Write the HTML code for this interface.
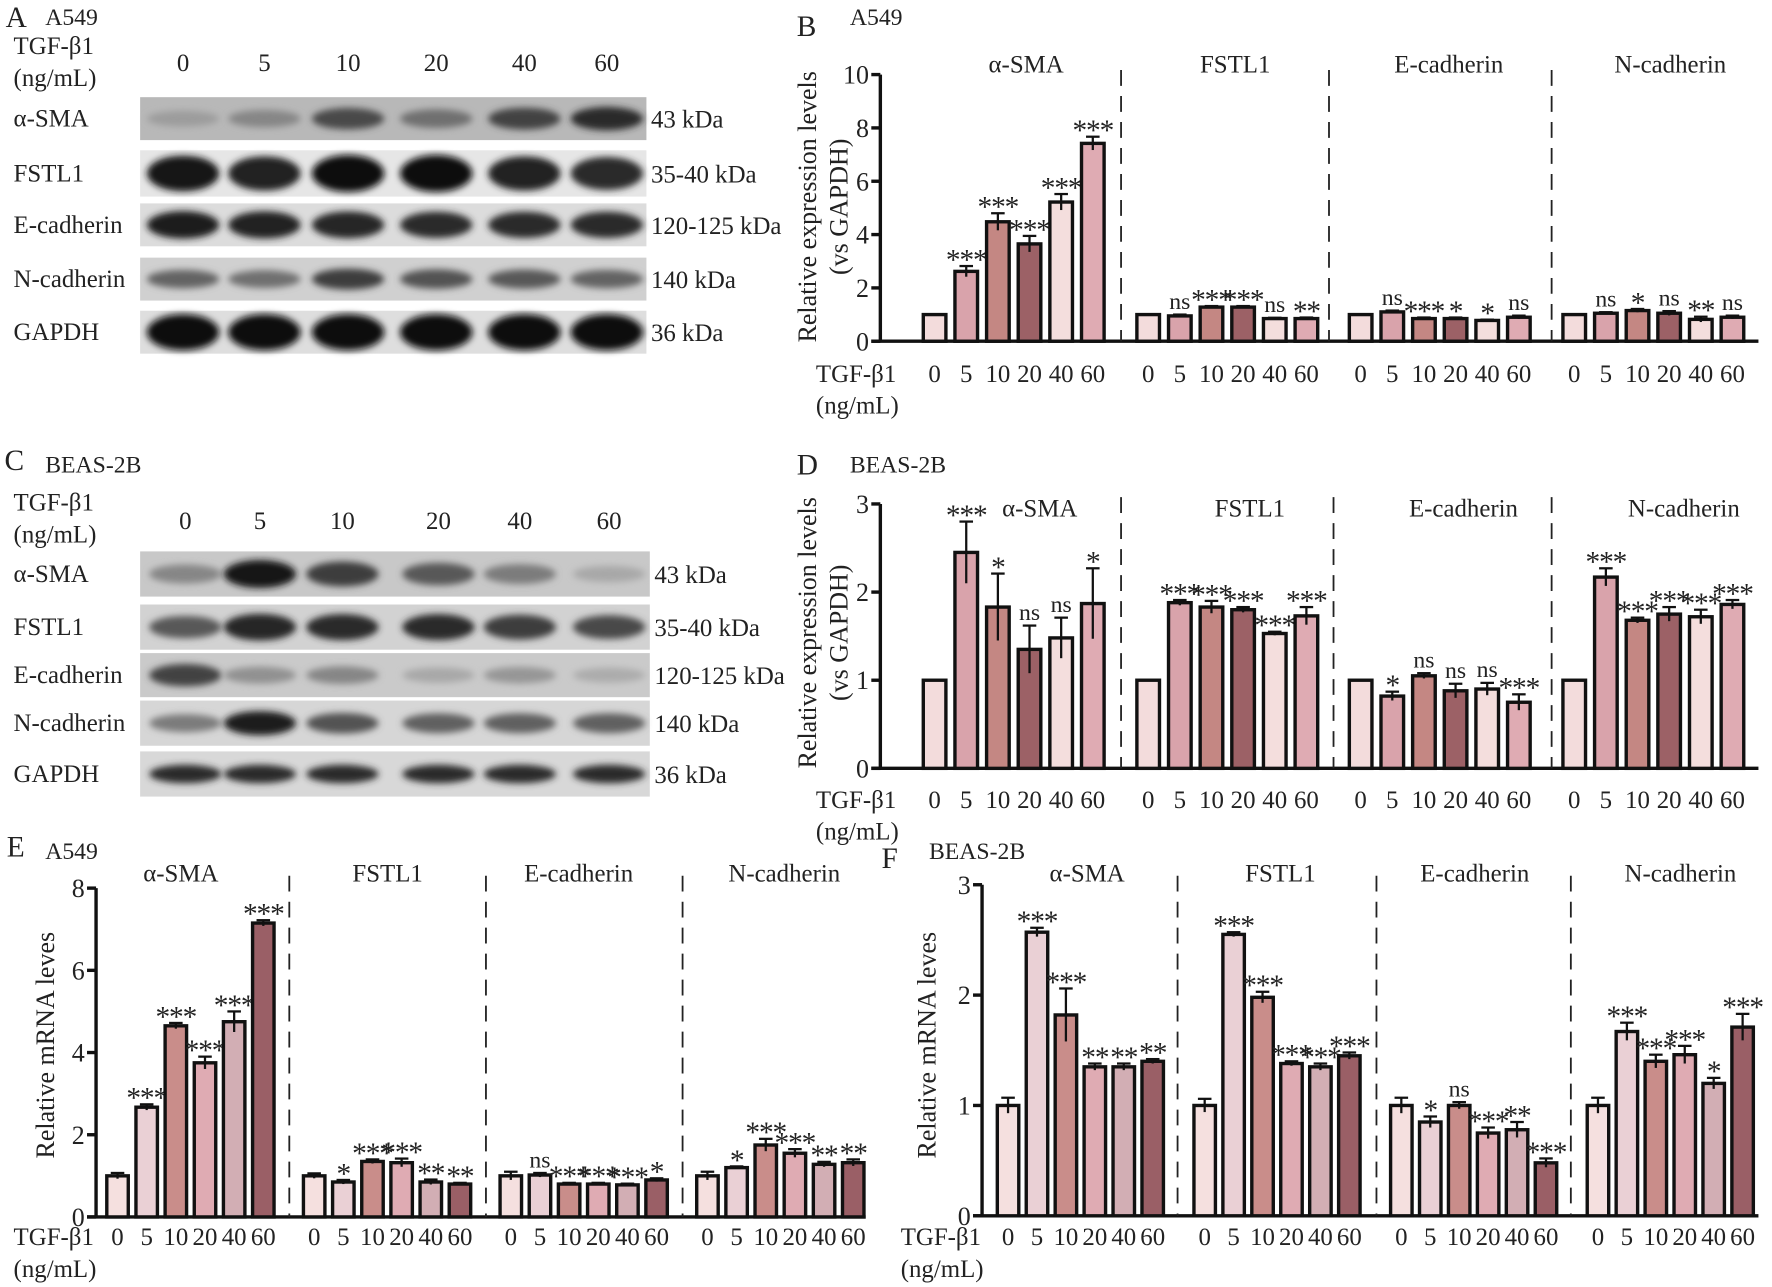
<!DOCTYPE html>
<html><head><meta charset="utf-8"><style>
html,body{margin:0;padding:0;background:#fff;}
svg{display:block;font-family:"Liberation Serif",serif;}
</style></head><body>
<svg id="fig" width="1772" height="1287" viewBox="0 0 1568 1139" preserveAspectRatio="none" xmlns="http://www.w3.org/2000/svg">
<defs><filter id="blur" x="-20%" y="-50%" width="140%" height="200%"><feGaussianBlur stdDeviation="3"/></filter></defs>
<g id="root"></g>
</svg>
<script>
// ===== Chart data =====
const doses = ["0","5","10","20","40","60"];
const groups = ["α-SMA","FSTL1","E-cadherin","N-cadherin"];
// Panel B (A549 protein)
const bSMA=[1,2.62,4.48,3.65,5.22,7.42], bSMAErr=[0,0.2,0.32,0.3,0.3,0.25], bSMASig=["","***","***","***","***","***"];
const bFSTL=[1,0.95,1.28,1.28,0.85,0.85], bFSTLErr=[0,0.05,0.04,0.04,0.03,0.04], bFSTLSig=["","ns","***","***","ns","**"];
const bEcad=[1,1.1,0.85,0.85,0.78,0.9], bEcadErr=[0,0.05,0.04,0.04,0.03,0.06], bEcadSig=["","ns","***","*","*","ns"];
const bNcad=[1,1.05,1.15,1.05,0.82,0.9], bNcadErr=[0,0.04,0.06,0.08,0.1,0.06], bNcadSig=["","ns","*","ns","**","ns"];
// Panel D (BEAS-2B protein)
const dSMA=[1,2.45,1.83,1.35,1.48,1.87], dSMAErr=[0,0.35,0.38,0.27,0.23,0.4], dSMASig=["","***","*","ns","ns","*"];
const dFSTL=[1,1.88,1.83,1.8,1.53,1.73], dFSTLErr=[0,0.03,0.07,0.03,0.02,0.1], dFSTLSig=["","***","***","***","***","***"];
const dEcad=[1,0.82,1.05,0.88,0.9,0.75], dEcadErr=[0,0.05,0.03,0.08,0.07,0.09], dEcadSig=["","*","ns","ns","ns","***"];
const dNcad=[1,2.17,1.68,1.75,1.72,1.86], dNcadErr=[0,0.1,0.03,0.08,0.08,0.05], dNcadSig=["","***","***","***","***","***"];
// Panel E (A549 mRNA)
const eSMA=[1,2.67,4.65,3.75,4.75,7.15], eSMAErr=[0.07,0.07,0.07,0.15,0.25,0.07], eSMASig=["","***","***","***","***","***"];
const eFSTL=[1,0.85,1.35,1.32,0.85,0.8], eFSTLErr=[0.06,0.05,0.05,0.1,0.06,0.03], eFSTLSig=["","*","***","***","**","**"];
const eEcad=[1,1.02,0.8,0.8,0.78,0.9], eEcadErr=[0.1,0.05,0.03,0.03,0.03,0.04], eEcadSig=["","ns","***","***","***","*"];
const eNcad=[1,1.2,1.75,1.55,1.28,1.32], eNcadErr=[0.1,0.03,0.15,0.1,0.06,0.08], eNcadSig=["","*","***","***","**","**"];
// Panel F (BEAS-2B mRNA)
const fSMA=[1,2.57,1.82,1.35,1.35,1.4], fSMAErr=[0.07,0.04,0.24,0.03,0.03,0.02], fSMASig=["","***","***","**","**","**"];
const fFSTL=[1,2.55,1.98,1.38,1.35,1.45], fFSTLErr=[0.06,0.02,0.05,0.02,0.03,0.03], fFSTLSig=["","***","***","***","***","***"];
const fEcad=[1,0.85,1,0.75,0.78,0.48], fEcadErr=[0.07,0.05,0.03,0.05,0.07,0.04], fEcadSig=["","*","ns","***","**","***"];
const fNcad=[1,1.67,1.4,1.46,1.2,1.71], fNcadErr=[0.07,0.08,0.06,0.08,0.05,0.12], fNcadSig=["","***","***","***","*","***"];
const bTicks=[0,2,4,6,8,10], dTicks=[0,1,2,3], eTicks=[0,2,4,6,8], fTicks=[0,1,2,3];

const NS="http://www.w3.org/2000/svg";
const root=document.getElementById('root');
function mk(tag,attrs,parent){const e=document.createElementNS(NS,tag);for(const k in attrs)e.setAttribute(k,attrs[k]);(parent||root).appendChild(e);return e;}
function txt(x,y,s,size,anchor,parent,name){const t=mk('text',{x:x,y:y,'font-size':size,'text-anchor':anchor||'start',fill:'#222'},parent);t.textContent=s;


return t;}

// ===== Bar chart builder =====
function chart(o){
  const g=mk('g',{});
  
  
  const y=v=>o.y0-(v/o.max)*(o.y0-o.y1);
  const x=(gi,i)=>o.gx[gi]+i*o.step;
  const ya=mk('line',{x1:o.ax,y1:o.y1,x2:o.ax,y2:o.y0,stroke:'#111','stroke-width':3},g);
  
  
  const xa=mk('line',{x1:o.ax-8,y1:o.y0,x2:o.xend,y2:o.y0,stroke:'#111','stroke-width':3},g);
  
  
  o.ticks.forEach(t=>{
    mk('line',{x1:o.ax-8,y1:y(t),x2:o.ax,y2:y(t),stroke:'#111','stroke-width':3},g);
    txt(o.ax-10,y(t)+8,String(t),23,'end',g,'y-tick-label');
  });
  o.dash.forEach(dx=>{const l=mk('line',{x1:dx,y1:o.dashTop,x2:dx,y2:o.y0,stroke:'#222','stroke-width':1.6,'stroke-dasharray':'14 9'},g);
    
    });
  groups.forEach((gn,gi)=>{
    txt(o.titleX[gi],o.titleY,gn,22,'middle',g,'group-title');
    const vals=o.vals[gi],errs=o.errs[gi],sig=o.sig[gi];
    vals.forEach((v,i)=>{
      const cx=x(gi,i);
      const r=mk('rect',{x:cx-o.bw/2,y:y(v),width:o.bw,height:o.y0-y(v),fill:o.colors[i],stroke:'#111','stroke-width':3},g);
      
      
      const e=errs[i];
      let top=y(v)-2;
      if(e>0){const yt=y(v+e),yb=y(Math.max(0,v-e));
        mk('line',{x1:cx,y1:yt,x2:cx,y2:yb,stroke:'#111','stroke-width':2},g);
        mk('line',{x1:cx-6,y1:yt,x2:cx+6,y2:yt,stroke:'#111','stroke-width':2},g);
        top=yt;}
      if(sig[i]){const st=sig[i]==='ns';
        if(st) txt(cx,top-5,sig[i],21,'middle',g,'significance-label');
        else { const t=txt(cx,top+3,sig[i],26,'middle',g,'significance-label'); t.setAttribute('letter-spacing','-1'); }}
      txt(cx,o.tickY,doses[i],22,'middle',g,'x-tick-label');
    });
  });
  txt(o.tgfX,o.tickY,'TGF-β1',22,'start',g,'x-axis-title');
  txt(o.tgfX,o.tickY+28,'(ng/mL)',22,'start',g,'x-axis-unit');
  o.ylab.forEach((s,k)=>{const t=txt(0,0,s,23,'middle',g,'y-axis-title');t.setAttribute('transform','translate('+(o.ylabX+k*28)+','+o.ylabY+') rotate(-90)');});
}
const protColors=['#f3dcdc','#d9a3ab','#c48783','#9c6166','#f4dedd','#dfabb3'];
const mrnaColors=['#f5e0df','#ead0d5','#c98d8a','#dfabb3','#d2aeb4','#9a5f66'];
const gxP=[827,1016,1204,1393];
chart({name:'chart-b-a549-protein',ax:779,y0:302,y1:66,max:10,ticks:bTicks,xend:1556,gx:gxP,step:28,bw:20,
  vals:[bSMA,bFSTL,bEcad,bNcad],errs:[bSMAErr,bFSTLErr,bEcadErr,bNcadErr],sig:[bSMASig,bFSTLSig,bEcadSig,bNcadSig],
  colors:protColors,dash:[992,1176,1373],dashTop:62,titleX:[908,1093,1282,1478],titleY:64,tickY:338,tgfX:722,
  ylab:['Relative expression levels','(vs GAPDH)'],ylabX:722,ylabY:183});
chart({name:'chart-d-beas2b-protein',ax:779,y0:680,y1:446,max:3,ticks:dTicks,xend:1556,gx:gxP,step:28,bw:20,
  vals:[dSMA,dFSTL,dEcad,dNcad],errs:[dSMAErr,dFSTLErr,dEcadErr,dNcadErr],sig:[dSMASig,dFSTLSig,dEcadSig,dNcadSig],
  colors:protColors,dash:[992,1180,1373],dashTop:440,titleX:[920,1106,1295,1490],titleY:457,tickY:715,tgfX:722,
  ylab:['Relative expression levels','(vs GAPDH)'],ylabX:722,ylabY:560});
chart({name:'chart-e-a549-mrna',ax:85,y0:1077,y1:786,max:8,ticks:eTicks,xend:766,gx:[104,278,452,626],step:25.8,bw:19,
  vals:[eSMA,eFSTL,eEcad,eNcad],errs:[eSMAErr,eFSTLErr,eEcadErr,eNcadErr],sig:[eSMASig,eFSTLSig,eEcadSig,eNcadSig],
  colors:mrnaColors,dash:[256,430,604],dashTop:775,titleX:[160,343,512,694],titleY:780,tickY:1102,tgfX:12,
  ylab:['Relative mRNA leves'],ylabX:48,ylabY:925});
chart({name:'chart-f-beas2b-mrna',ax:869,y0:1076,y1:783,max:3,ticks:fTicks,xend:1556,gx:[892,1066,1240,1414],step:25.6,bw:19,
  vals:[fSMA,fFSTL,fEcad,fNcad],errs:[fSMAErr,fFSTLErr,fEcadErr,fNcadErr],sig:[fSMASig,fFSTLSig,fEcadSig,fNcadSig],
  colors:mrnaColors,dash:[1042,1218,1390],dashTop:775,titleX:[962,1133,1305,1487],titleY:780,tickY:1102,tgfX:797,
  ylab:['Relative mRNA leves'],ylabX:828,ylabY:925});

// ===== Panel letters =====
[['A',5,24],['B',705,32],['C',4,416],['D',705,420],['E',6,758],['F',780,768]].forEach(p=>txt(p[1],p[2],p[0],26,'start',root,'panel-letter-'+p[0].toLowerCase()));
[['A549',40,22],['A549',752,22],['BEAS-2B',40,418],['BEAS-2B',752,418],['A549',40,760],['BEAS-2B',822,760]].forEach(p=>txt(p[1],p[2],p[0],21,'start',root,'cell-line-label'));

// ===== Western blots =====
const aRows=['α-SMA','FSTL1','E-cadherin','N-cadherin','GAPDH'];
const kda=['43 kDa','35-40 kDa','120-125 kDa','140 kDa','36 kDa'];
const aLanes=[162,234,308,386,464,537];
const aInt=[[0.35,0.45,0.72,0.55,0.75,0.85],[0.95,0.9,1,1,0.9,0.85],[0.92,0.9,0.88,0.85,0.85,0.85],[0.6,0.55,0.78,0.68,0.65,0.6],[1,1,1,1,1,1]];
const cLanes=[164,230,303,388,460,539];
const cInt=[[0.45,0.95,0.78,0.65,0.5,0.3],[0.65,0.88,0.85,0.85,0.78,0.72],[0.75,0.4,0.45,0.3,0.38,0.28],[0.5,0.92,0.68,0.62,0.62,0.62],[0.85,0.85,0.85,0.85,0.85,0.85]];
function blot(o){
  txt(12,o.tgfY,'TGF-β1',22,'start',root,'blot-treatment-label');
  txt(12,o.tgfY+28,'(ng/mL)',22,'start',root,'blot-unit-label');
  o.lanes.forEach((lx,i)=>txt(lx,o.laneY,doses[i],22,'middle',root,'lane-label'));
  o.rows.forEach((r,ri)=>{
    const g=mk('g',{});
    
    
    mk('rect',{x:124,y:r[0],width:o.w,height:r[1]-r[0],fill:o.bg[ri]},g);
    const cy=(r[0]+r[1])/2,h=r[1]-r[0];
    o.ints[ri].forEach((v,i)=>{const c=Math.round(235-225*v);
      mk('ellipse',{cx:o.lanes[i],cy:cy,rx:32,ry:h*(0.12+0.2*v*o.th[ri]),fill:'rgb('+c+','+c+','+c+')',filter:'url(#blur)'},g);});
    txt(12,cy+7,aRows[ri],22,'start',root,'blot-row-label');
    txt(124+o.w+4,cy+o.kOff,kda[ri],22,'start',root,'molecular-weight-label');
  });
}
blot({tgfY:48,laneY:63,lanes:aLanes,ints:aInt,w:448,th:[0.9,1.4,1.1,0.8,1.5],
  rows:[[86,124],[133,174],[180,218],[228,266],[275,313]],bg:['#b8b8b8','#e6e6e6','#dcdcdc','#d0d0d0','#dedede'],kOff:8});
blot({tgfY:452,laneY:468,lanes:cLanes,ints:cInt,w:451,th:[1,1,0.9,0.8,0.5],
  rows:[[488,528],[535,575],[578,617],[620,660],[665,705]],bg:['#c8c8c8','#d2d2d2','#cacaca','#d6d6d6','#d8d8d8'],kOff:8});
</script>
</body></html>
